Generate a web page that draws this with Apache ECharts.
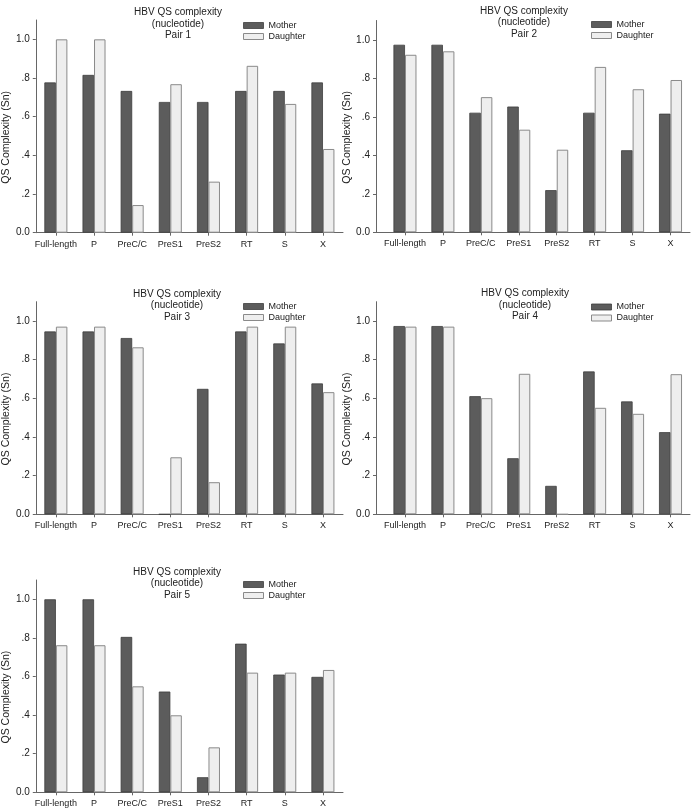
<!DOCTYPE html>
<html>
<head>
<meta charset="utf-8">
<script src="https://cdn.jsdelivr.net/npm/echarts@6/dist/echarts.min.js"></script>
<style>
  html, body { margin: 0; padding: 0; background: #fff; }
  #chart { width: 691px; height: 811px; }
</style>
</head>
<body>
<div id="chart"></div>
<script>
const categories = ['Full-length', 'P', 'PreC/C', 'PreS1', 'PreS2', 'RT', 'S', 'X'];
const seriesNames = ['Mother', 'Daughter'];
const pairLabels = ['Pair 1', 'Pair 2', 'Pair 3', 'Pair 4', 'Pair 5'];
const yTicks = [0, 0.2, 0.4, 0.6, 0.8, 1.0];

const mother1   = [0.777, 0.816, 0.733, 0.676, 0.676, 0.733, 0.733, 0.777];
const daughter1 = [1.000, 1.000, 0.143, 0.768, 0.264, 0.863, 0.666, 0.433];
const mother2   = [0.974, 0.974, 0.621, 0.653, 0.219, 0.621, 0.426, 0.616];
const daughter2 = [0.922, 0.940, 0.702, 0.533, 0.429, 0.859, 0.743, 0.791];
const mother3   = [0.946, 0.946, 0.912, 0.000, 0.649, 0.946, 0.884, 0.677];
const daughter3 = [0.971, 0.971, 0.864, 0.295, 0.166, 0.971, 0.971, 0.632];
const mother4   = [0.974, 0.974, 0.611, 0.290, 0.147, 0.739, 0.584, 0.425];
const daughter4 = [0.971, 0.971, 0.601, 0.727, 0.000, 0.551, 0.520, 0.725];
const mother5   = [1.000, 1.000, 0.805, 0.522, 0.078, 0.770, 0.610, 0.598];
const daughter5 = [0.762, 0.762, 0.549, 0.399, 0.233, 0.620, 0.620, 0.634];

const motherSets = [mother1, mother2, mother3, mother4, mother5];
const daughterSets = [daughter1, daughter2, daughter3, daughter4, daughter5];

// layout per panel (positions only)
const panels = [
  { left: 28,  top: 20,    bottom: 232.7, axisEnd: 343, barLeft: 36.8,  barRight: 342, titleX: 173, titleTop: 1.5,   legX: 243, legTop: 21 },
  { left: 376, top: 20.5,  bottom: 232.3, axisEnd: 690, barLeft: 386,   barRight: 689.5, titleX: 519, titleTop: 0,   legX: 591, legTop: 20 },
  { left: 28,  top: 301.7, bottom: 514.3, axisEnd: 343, barLeft: 36.8,  barRight: 342, titleX: 172, titleTop: 283,   legX: 243, legTop: 302 },
  { left: 376, top: 301.7, bottom: 514.3, axisEnd: 690, barLeft: 386,   barRight: 689.5, titleX: 520, titleTop: 282.5, legX: 591, legTop: 302.5 },
  { left: 28,  top: 580,   bottom: 792.3, axisEnd: 343, barLeft: 36.8,  barRight: 342, titleX: 172, titleTop: 561,   legX: 243, legTop: 580 }
];

const FONT = '"Liberation Sans", Arial, sans-serif';
const AXIS_COLOR = '#666';
const motherStyle = { color: '#5c5c5c', borderColor: '#3d3d3d', borderWidth: 0.8 };
const daughterStyle = { color: '#eeeeee', borderColor: '#8a8a8a', borderWidth: 1 };

const option = {
  backgroundColor: '#ffffff',
  animation: false,
  title: [], legend: [], grid: [], xAxis: [], yAxis: [], series: []
};

panels.forEach((p, k) => {
  option.title.push({
    text: 'HBV QS complexity\n(nucleotide)\n' + pairLabels[k],
    left: p.titleX, top: p.titleTop, textAlign: 'center',
    textStyle: { fontFamily: FONT, fontSize: 10, fontWeight: 'normal', color: '#222', lineHeight: 11.5 }
  });
  option.legend.push({
    orient: 'vertical', left: p.legX, top: p.legTop,
    itemWidth: 20, itemHeight: 6, itemGap: 2, padding: 0,
    icon: 'rect',
    textStyle: { fontFamily: FONT, fontSize: 9, color: '#222', lineHeight: 9 },
    data: [
      { name: seriesNames[0], itemStyle: motherStyle },
      { name: seriesNames[1], itemStyle: daughterStyle }
    ],
    selectedMode: false
  });

  // frame grid: axis lines, y ticks and labels
  const frameIdx = option.grid.length;
  option.grid.push({
    left: p.left, top: p.top,
    width: p.axisEnd - p.left, height: p.bottom - p.top
  });
  option.xAxis.push({
    gridIndex: frameIdx, type: 'value', min: 0, max: 1,
    splitLine: { show: false },
    axisLine: { show: true, onZero: false, lineStyle: { color: AXIS_COLOR, width: 1 } },
    axisTick: { show: false }, axisLabel: { show: false }
  });
  option.yAxis.push({
    gridIndex: frameIdx, type: 'value', min: 0, max: 1.1,
    name: 'QS Complexity (Sn)', nameLocation: 'middle', nameGap: 17,
    nameTextStyle: { fontFamily: FONT, fontSize: 10.5, color: '#222', padding: [0, 22, 0, 0] },
    splitLine: { show: false },
    axisLine: { show: true, onZero: false, lineStyle: { color: AXIS_COLOR, width: 1 } },
    axisTick: { show: true, inside: false, length: 3, lineStyle: { color: AXIS_COLOR }, customValues: yTicks },
    axisLabel: { margin: 6, fontFamily: FONT, fontSize: 10, color: '#222', customValues: yTicks,
                 formatter: v => (Math.abs(v) < 1e-9 ? '0.0' : (Math.abs(v - 1) < 1e-9 ? '1.0' : '.' + Math.round(v * 10))) }
  });

  // bar grid: category axis
  const barIdx = option.grid.length;
  option.grid.push({
    left: p.barLeft, top: p.top,
    width: p.barRight - p.barLeft, height: p.bottom - p.top
  });
  option.xAxis.push({
    gridIndex: barIdx, type: 'category', data: categories, boundaryGap: true,
    axisLine: { show: false },
    axisTick: { show: true, alignWithLabel: true, interval: 0, inside: false, length: 3, lineStyle: { color: AXIS_COLOR } },
    axisLabel: { interval: 0, margin: 7, fontFamily: FONT, fontSize: 9, color: '#222' }
  });
  option.yAxis.push({
    gridIndex: barIdx, type: 'value', min: 0, max: 1.1, show: false
  });
  option.series.push({
    name: seriesNames[0], type: 'bar', xAxisIndex: barIdx, yAxisIndex: barIdx,
    barWidth: 11.5, barGap: '0%',
    itemStyle: motherStyle,
    data: motherSets[k]
  });
  option.series.push({
    name: seriesNames[1], type: 'bar', xAxisIndex: barIdx, yAxisIndex: barIdx,
    barWidth: 11.5, barGap: '0%',
    itemStyle: daughterStyle,
    data: daughterSets[k]
  });
});

const chart = echarts.init(document.getElementById('chart'), null, { renderer: 'canvas' });
chart.setOption(option);
</script>
</body>
</html>
